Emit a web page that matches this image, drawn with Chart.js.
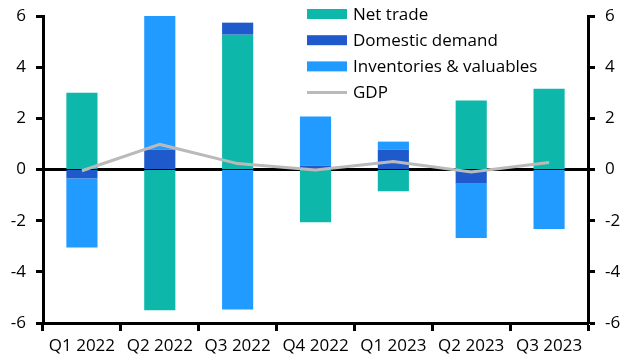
<!DOCTYPE html>
<html>
<head>
<meta charset="utf-8">
<script src="https://cdn.jsdelivr.net/npm/chart.js@4"></script>
<style>
  html, body { margin: 0; padding: 0; background: #fff; }
  #wrap { width: 634px; height: 361px; position: relative; }
</style>
</head>
<body>
<div id="wrap"><canvas id="chart" width="634" height="361"></canvas></div>
<script>
// quarters on the x axis
var quarters = ['Q1 2022', 'Q2 2022', 'Q3 2022', 'Q4 2022', 'Q1 2023', 'Q2 2023', 'Q3 2023'];

// contributions to growth (pp)
var netTrade = [3.0, -5.5, 5.27, -2.06, -0.85, 2.7, 3.16];
var domesticDemand = [-0.35, 0.78, 0.47, 0.16, 0.78, -0.55, 0.0];
var inventories = [-2.7, 5.22, -5.47, 1.91, 0.31, -2.13, -2.33];
var gdp = [-0.05, 0.98, 0.23, -0.02, 0.31, -0.1, 0.27];

var yTicks = [-6, -4, -2, 0, 2, 4, 6];

var FONT = '"Open Sans", sans-serif';

// zero line across the plot
var zeroLine = {
  id: 'zeroLine',
  beforeDatasetsDraw: function(chart) {
    var ctx = chart.ctx, area = chart.chartArea;
    var y = chart.scales.y.getPixelForValue(0);
    ctx.save();
    ctx.strokeStyle = '#000';
    ctx.lineWidth = 3;
    ctx.beginPath();
    ctx.moveTo(area.left, y);
    ctx.lineTo(area.right, y);
    ctx.stroke();
    ctx.restore();
  }
};

// legend drawn inside the plot, top middle
var insideLegend = {
  id: 'insideLegend',
  afterDraw: function(chart) {
    var ctx = chart.ctx;
    var x = 307, y0 = 14, gap = 26.2;
    ctx.save();
    ctx.font = '17px ' + FONT;
    ctx.textBaseline = 'middle';
    chart.data.datasets.forEach(function(ds, i) {
      var y = y0 + i * gap;
      if (ds.type === 'line') {
        ctx.strokeStyle = ds.borderColor;
        ctx.lineWidth = 3;
        ctx.beginPath();
        ctx.moveTo(x, y);
        ctx.lineTo(x + 40, y);
        ctx.stroke();
      } else {
        ctx.fillStyle = ds.backgroundColor;
        ctx.fillRect(x, y - 5, 40, 10);
      }
      ctx.fillStyle = '#000';
      ctx.fillText(ds.label, x + 46, y + 1);
    });
    ctx.restore();
  }
};

var tickFont = { family: FONT, size: 17 };

// fixed axis sizes so the plot area sits where the reference has it
function fixY(width) {
  return function(s) {
    s.width = width;
    s.paddingTop = 0;
    s.paddingBottom = 0;
  };
}

new Chart(document.getElementById('chart'), {
  data: {
    labels: quarters,
    datasets: [
      { type: 'bar', label: 'Net trade', data: netTrade, backgroundColor: '#0db8ab', order: 1 },
      { type: 'bar', label: 'Domestic demand', data: domesticDemand, backgroundColor: '#1f5acc', order: 1 },
      { type: 'bar', label: 'Inventories & valuables', data: inventories, backgroundColor: '#219bff', order: 1 },
      { type: 'line', label: 'GDP', data: gdp, yAxisID: 'y2', borderColor: '#bababa', borderWidth: 3,
        pointRadius: 0, tension: 0, order: 0 }
    ]
  },
  options: {
    responsive: false,
    animation: false,
    maintainAspectRatio: false,
    layout: { padding: { top: 16, left: 0, right: 0, bottom: 0 } },
    datasets: { bar: { barPercentage: 0.4, categoryPercentage: 1 } },
    plugins: { legend: { display: false }, tooltip: { enabled: false } },
    scales: {
      x: {
        stacked: true,
        offset: true,
        grid: { offset: true, drawOnChartArea: false, drawTicks: true, tickLength: 8, tickWidth: 3, tickColor: '#000' },
        border: { display: true, color: '#000', width: 3 },
        ticks: { color: '#000', font: tickFont, maxRotation: 0, padding: 5, autoSkip: false },
        afterFit: function(s) { s.height = 38; s.paddingLeft = 0; s.paddingRight = 0; }
      },
      y: {
        stacked: true,
        position: 'left',
        min: -6, max: 6,
        afterBuildTicks: function(s) { s.ticks = yTicks.map(function(v) { return { value: v }; }); },
        grid: { drawOnChartArea: false, drawTicks: true, tickLength: 7, tickWidth: 3, tickColor: '#000' },
        border: { display: true, color: '#000', width: 3 },
        ticks: { color: '#000', font: tickFont, padding: 10 },
        afterFit: fixY(43)
      },
      y2: {
        position: 'right',
        min: -6, max: 6,
        afterBuildTicks: function(s) { s.ticks = yTicks.map(function(v) { return { value: v }; }); },
        grid: { drawOnChartArea: false, drawTicks: true, tickLength: 7, tickWidth: 3, tickColor: '#000' },
        border: { display: true, color: '#000', width: 3 },
        ticks: { color: '#000', font: tickFont, padding: 10 },
        afterFit: fixY(46)
      }
    }
  },
  plugins: [zeroLine, insideLegend]
});
</script>
</body>
</html>
